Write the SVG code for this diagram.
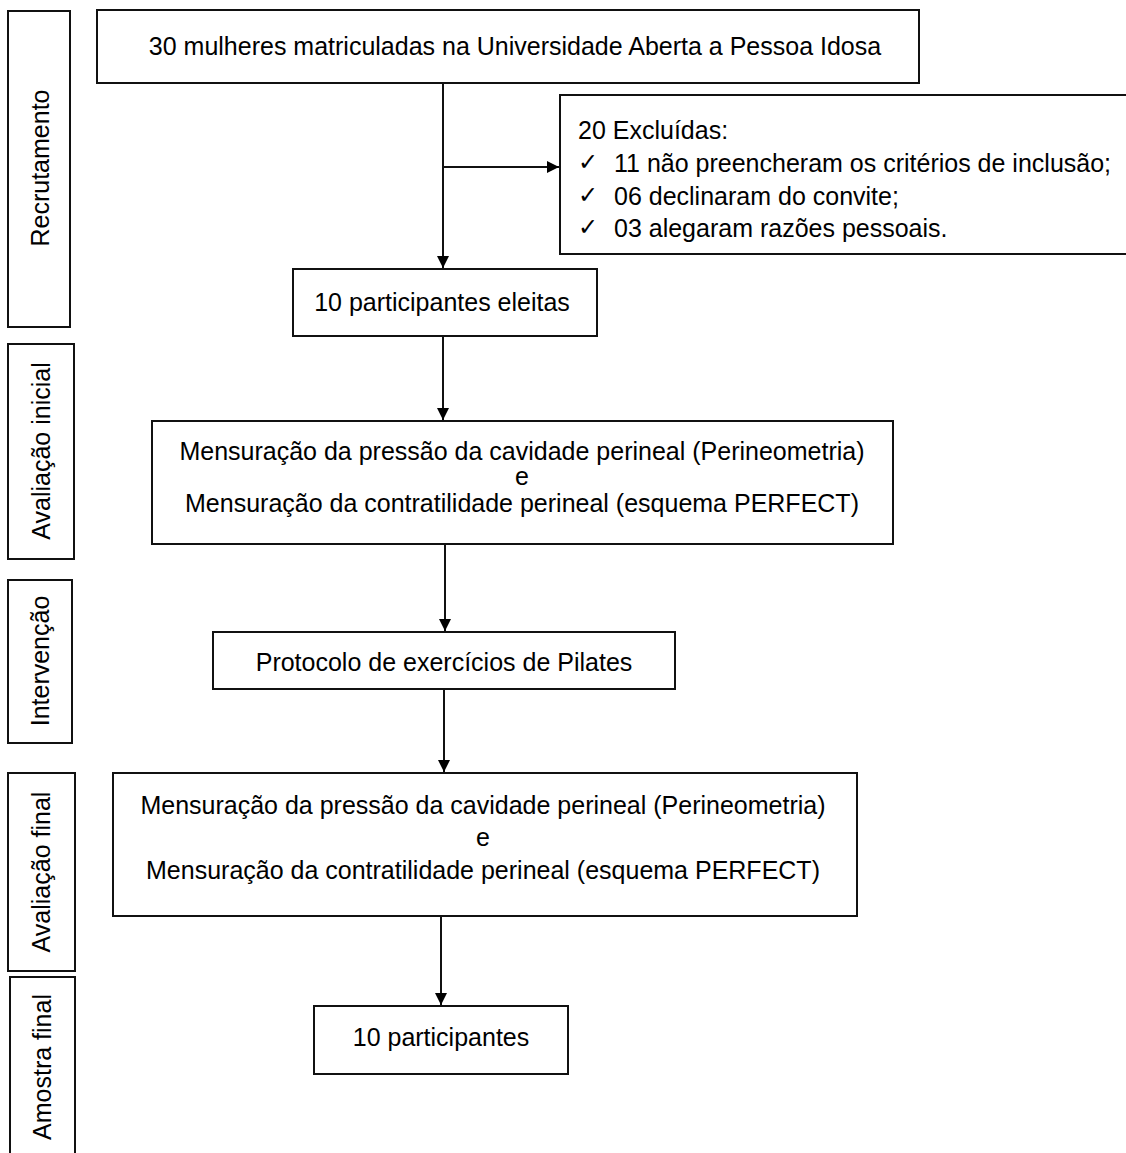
<svg xmlns="http://www.w3.org/2000/svg" width="1126" height="1153" viewBox="0 0 1126 1153">
<defs>
<style>
.box{fill:#fff;stroke:#111;stroke-width:2}
.t{font-family:"Liberation Sans",Arial,sans-serif;font-size:25px;fill:#000}
.c{text-anchor:middle}
.ck{font-family:"DejaVu Sans",sans-serif;font-size:24px;fill:#000}
.ln{fill:none;stroke:#111;stroke-width:2}
</style>
<marker id="ah" viewBox="0 0 12 12" refX="12" refY="6" markerWidth="12" markerHeight="12" markerUnits="userSpaceOnUse" orient="auto">
<path d="M0,0 L12,6 L0,12 Z" fill="#000"/>
</marker>
</defs>
<rect width="1126" height="1153" fill="#fff"/>

<g id="lbl-recrutamento"><rect class="box" x="8" y="11" width="62" height="316"/><text class="t c" transform="translate(49,168) rotate(-90)">Recrutamento</text></g>
<g id="lbl-avaliacao-inicial"><rect class="box" x="8" y="344" width="66" height="215"/><text class="t c" transform="translate(50,451) rotate(-90)">Avaliação inicial</text></g>
<g id="lbl-intervencao"><rect class="box" x="8" y="580" width="64" height="163"/><text class="t c" transform="translate(49,661) rotate(-90)">Intervenção</text></g>
<g id="lbl-avaliacao-final"><rect class="box" x="8" y="773" width="67" height="198"/><text class="t c" transform="translate(50,872) rotate(-90)">Avaliação final</text></g>
<g id="lbl-amostra-final"><rect class="box" x="10" y="977" width="65" height="190"/><text class="t c" transform="translate(51,1067) rotate(-90)">Amostra final</text></g>

<g id="n-mulheres"><rect class="box" x="97" y="10" width="822" height="73"/><text class="t c" x="515" y="55">30 mulheres matriculadas na Universidade Aberta a Pessoa Idosa</text></g>
<g id="n-excluidas"><rect class="box" x="560" y="95" width="580" height="159"/>
<text class="t" x="578" y="139">20 Excluídas:</text>
<text class="ck" x="578" y="170">✓</text><text class="t" x="614" y="172">11 não preencheram os critérios de inclusão;</text>
<text class="ck" x="578" y="203">✓</text><text class="t" x="614" y="205">06 declinaram do convite;</text>
<text class="ck" x="578" y="235">✓</text><text class="t" x="614" y="237">03 alegaram razões pessoais.</text>
</g>
<g id="n-eleitas"><rect class="box" x="293" y="269" width="304" height="67"/><text class="t c" x="442" y="311">10 participantes eleitas</text></g>
<g id="n-aval-inicial"><rect class="box" x="152" y="421" width="741" height="123"/>
<text class="t c" x="522" y="460">Mensuração da pressão da cavidade perineal (Perineometria)</text>
<text class="t c" x="522" y="485">e</text>
<text class="t c" x="522" y="512">Mensuração da contratilidade perineal (esquema PERFECT)</text>
</g>
<g id="n-protocolo"><rect class="box" x="213" y="632" width="462" height="57"/><text class="t c" x="444" y="671">Protocolo de exercícios de Pilates</text></g>
<g id="n-aval-final"><rect class="box" x="113" y="773" width="744" height="143"/>
<text class="t c" x="483" y="814">Mensuração da pressão da cavidade perineal (Perineometria)</text>
<text class="t c" x="483" y="846">e</text>
<text class="t c" x="483" y="879">Mensuração da contratilidade perineal (esquema PERFECT)</text>
</g>
<g id="n-final"><rect class="box" x="314" y="1006" width="254" height="68"/><text class="t c" x="441" y="1046">10 participantes</text></g>

<g id="connectors">
<line class="ln" x1="443" y1="83" x2="443" y2="268" marker-end="url(#ah)"/>
<line class="ln" x1="442" y1="167" x2="559" y2="167" marker-end="url(#ah)"/>
<line class="ln" x1="443" y1="336" x2="443" y2="420" marker-end="url(#ah)"/>
<line class="ln" x1="445" y1="544" x2="445" y2="631" marker-end="url(#ah)"/>
<line class="ln" x1="444" y1="689" x2="444" y2="772" marker-end="url(#ah)"/>
<line class="ln" x1="441" y1="916" x2="441" y2="1005" marker-end="url(#ah)"/>
</g>
</svg>
